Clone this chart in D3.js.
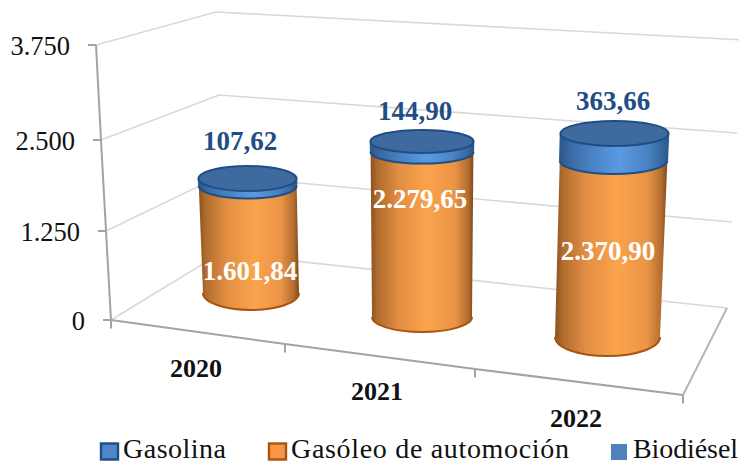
<!DOCTYPE html>
<html><head><meta charset="utf-8">
<script src="https://cdn.jsdelivr.net/npm/d3@7"></script>
<style>html,body{margin:0;padding:0;background:#fff}svg{display:block}text{font-family:"Liberation Serif",serif}</style>
</head><body><svg id="c" width="739" height="463"></svg>
<script>
const categories=["2020","2021","2022"];
const gasoleo=[1601.84,2279.65,2370.90];
const biodiesel=[107.62,144.90,363.66];
const gasoleoLabels=["1.601,84","2.279,65","2.370,90"];
const biodieselLabels=["107,62","144,90","363,66"];
const yTicks=[0,1250,2500,3750];
const yTickLabels=["0","1.250","2.500","3.750"];
const legendNames=["Gasolina","Gasóleo de automoción","Biodiésel"];

const svg=d3.select("#c");
const defs=svg.append("defs");
function grad(id,stops){
  const g=defs.append("linearGradient").attr("id",id);
  stops.forEach(s=>g.append("stop").attr("offset",s[0]).attr("stop-color",s[1]));
}
grad("or",[[0,"#8a5220"],[.07,"#b26c2e"],[.28,"#e28f44"],[.55,"#fba34c"],[.82,"#ea9446"],[.95,"#b26c2e"],[1,"#7d481b"]]);
grad("bl",[[0,"#2d5587"],[.08,"#38689f"],[.3,"#4a83c4"],[.55,"#5b9ae2"],[.8,"#4a83c4"],[.94,"#38689f"],[1,"#2d5587"]]);

// walls: value -> position along each vertical edge of the 3D box
const edge=(xs,ys)=>({x:d3.scaleLinear(yTicks,xs),y:d3.scaleLinear(yTicks,ys)});
const frontLeft=edge([111,106,101,96],[320,231,140,45]);
const backLeft=edge([221,220,219,216],[253,176,95,12]);
const backRight=edge([727,732,737,743],[308,222,133,40]);

const gridG=svg.append("g").attr("fill","none").attr("stroke","#d9d9d9").attr("stroke-width",1.6);
gridG.selectAll(".l").data(yTicks).join("path")
  .attr("d",v=>d3.line()([[frontLeft.x(v),frontLeft.y(v)],[backLeft.x(v),backLeft.y(v)],[backRight.x(v),backRight.y(v)]]));

// floor + axes
const frontX=d3.scaleLinear([0,1,2,3],[111,285,475,683]);
const frontY=d3.scaleLinear([0,1,2,3],[320,344,369,395]);
const axisG=svg.append("g").attr("fill","none").attr("stroke","#a3a3a3").attr("stroke-width",2);
axisG.append("path").attr("d",d3.line()(yTicks.map(v=>[frontLeft.x(v),frontLeft.y(v)])));
axisG.selectAll(".yt").data(yTicks).join("line")
  .attr("x1",v=>frontLeft.x(v)-8).attr("x2",v=>frontLeft.x(v))
  .attr("y1",v=>frontLeft.y(v)).attr("y2",v=>frontLeft.y(v));
axisG.append("path").attr("d",d3.line()(d3.range(4).map(i=>[frontX(i),frontY(i)])));
axisG.selectAll(".xt").data(d3.range(4)).join("line")
  .attr("x1",frontX).attr("x2",frontX)
  .attr("y1",frontY).attr("y2",i=>frontY(i)+8.5);
axisG.append("line").attr("x1",frontX(3)).attr("y1",frontY(3)).attr("x2",backRight.x(0)).attr("y2",backRight.y(0)).attr("stroke","#b5b5b5");

svg.selectAll(".yl").data(yTicks).join("text")
  .attr("x",v=>frontLeft.x(v)-26)
  .attr("y",v=>frontLeft.y(v)+10)
  .attr("text-anchor","end").attr("font-size",26.5).attr("fill","#111")
  .text((v,i)=>yTickLabels[i]);

// cylinders: one vertical scale per category because of the perspective
const cxBase=d3.scaleOrdinal(categories,[251,422,607.5]);
const cxTop=d3.scaleOrdinal(categories,[247.5,422,614.5]);
const rxBase=d3.scaleOrdinal(categories,[48,50,52.5]);
const rxTop=d3.scaleOrdinal(categories,[49,51.5,54]);
const ryBase=d3.scaleOrdinal(categories,[17,15,19]);
const ryTop=d3.scaleOrdinal(categories,[12.5,11.5,12.5]);
const yFront=categories.map((c,i)=>d3.scaleLinear([0,3750],[[310,332,356][i],[49,55,68][i]]));

function ring(c,i,v){
  const tot=gasoleo[i]+biodiesel[i];
  const t=v/tot;
  const ry=ryBase(c)+(ryTop(c)-ryBase(c))*t;
  return {cx:cxBase(c)+(cxTop(c)-cxBase(c))*t, rx:rxBase(c)+(rxTop(c)-rxBase(c))*t, ry, cy:yFront[i](v)-ry};
}
function side(a,b){ // a lower ring, b upper ring
  return `M${a.cx-a.rx},${a.cy}A${a.rx},${a.ry} 0 0 0 ${a.cx+a.rx},${a.cy}`+
         `L${b.cx+b.rx},${b.cy}A${b.rx},${b.ry} 0 0 1 ${b.cx-b.rx},${b.cy}Z`;
}
function frontArc(a){return `M${a.cx-a.rx},${a.cy}A${a.rx},${a.ry} 0 0 0 ${a.cx+a.rx},${a.cy}`;}

const cyl=svg.selectAll(".cyl").data(categories).join("g");
cyl.each(function(c,i){
  const g=d3.select(this);
  const r0=ring(c,i,0), r1=ring(c,i,gasoleo[i]), r2=ring(c,i,gasoleo[i]+biodiesel[i]);
  g.append("path").attr("d",side(r0,r1)).attr("fill","url(#or)");
  g.append("path").attr("d",frontArc(r0)).attr("fill","none").attr("stroke","#a9540f").attr("stroke-width",2);
  g.append("path").attr("d",side(r1,r2)).attr("fill","url(#bl)");
  g.append("path").attr("d",frontArc(r1)).attr("fill","none").attr("stroke","#1f4e86").attr("stroke-width",2);
  g.append("path").attr("d",`M${r1.cx-r1.rx},${r1.cy}L${r2.cx-r2.rx},${r2.cy}M${r1.cx+r1.rx},${r1.cy}L${r2.cx+r2.rx},${r2.cy}`)
    .attr("fill","none").attr("stroke","#2a5c96").attr("stroke-width",1.5);
  g.append("ellipse").attr("cx",r2.cx).attr("cy",r2.cy).attr("rx",r2.rx).attr("ry",r2.ry)
    .attr("fill","#3f6a9f").attr("stroke","#1f4e86").attr("stroke-width",2);
});

const labelBold=(sel)=>sel.attr("text-anchor","middle").attr("font-weight","bold").attr("font-size",27);
labelBold(svg.selectAll(".bl").data(biodieselLabels).join("text"))
  .attr("x",(d,i)=>[240,415,613][i]).attr("y",(d,i)=>[150,120,110][i]).attr("fill","#1f4e86").text(d=>d);
labelBold(svg.selectAll(".gl").data(gasoleoLabels).join("text"))
  .attr("x",(d,i)=>[250,420,608][i]).attr("y",(d,i)=>[280,208,260][i]).attr("fill","#fff").text(d=>d);
svg.selectAll(".cl").data(categories).join("text")
  .attr("x",(d,i)=>[196,377,576][i]).attr("y",(d,i)=>[377,400,427][i])
  .attr("text-anchor","middle").attr("font-weight","bold").attr("font-size",26).attr("fill","#111").text(d=>d);

// legend
const swX=[101,269,611], txtX=[123,291,633], txtW=[103,278,105];
const swFill=["#4f86c6","#f79646","#4f81bd"], swStroke=["#1f4e86","#a9540f","none"];
const lg=svg.selectAll(".lg").data(legendNames).join("g");
lg.append("rect").attr("x",(d,i)=>swX[i]).attr("y",(d,i)=>i==2?444:443.5).attr("width",(d,i)=>i==2?16:17).attr("height",16)
  .attr("fill",(d,i)=>swFill[i]).attr("stroke",(d,i)=>swStroke[i]).attr("stroke-width",2.4);
lg.append("text").attr("x",(d,i)=>txtX[i]).attr("y",458).attr("font-size",28).attr("fill","#111")
  .attr("textLength",(d,i)=>txtW[i]).attr("lengthAdjust","spacing").text(d=>d);
</script></body></html>
